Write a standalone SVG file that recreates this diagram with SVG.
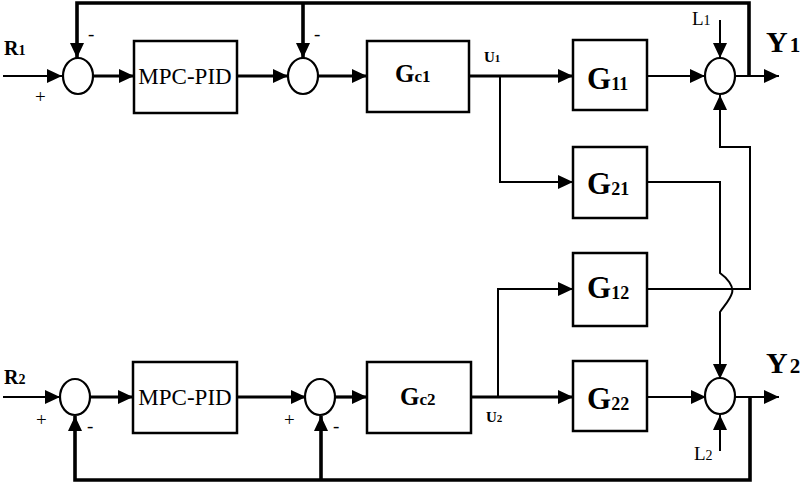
<svg xmlns="http://www.w3.org/2000/svg" width="800" height="482" viewBox="0 0 800 482">
<defs>
<marker id="ah" markerUnits="userSpaceOnUse" markerWidth="16" markerHeight="14" refX="15" refY="7" orient="auto">
<path d="M0,0 L15,7 L0,14 z" fill="#000"/>
</marker>
<style>
.blk{fill:#fff;stroke:#000;stroke-width:2.5}
.sum{fill:#fff;stroke:#000;stroke-width:2.2}
.thin{fill:none;stroke:#000;stroke-width:2}
.thick{fill:none;stroke:#000;stroke-width:3.2}
.fb{fill:none;stroke:#000;stroke-width:3.6}
text{font-family:"Liberation Serif","Times New Roman",serif;fill:#000}
.b{font-weight:bold}
.mpc{font-size:23px;text-anchor:middle}
.sign{font-size:19px}
</style>
</defs>
<rect width="800" height="482" fill="#fff"/>
<g id="connectors">
<path class="thin" d="M3,76 H62" marker-end="url(#ah)"/>
<path class="thick" d="M93,76 H134" marker-end="url(#ah)"/>
<path class="thick" d="M237,76 H288" marker-end="url(#ah)"/>
<path class="thick" d="M318,76 H367" marker-end="url(#ah)"/>
<path class="thick" d="M469,76 H573" marker-end="url(#ah)"/>
<path class="thin" d="M500,76 V182 H573" marker-end="url(#ah)"/>
<path class="thin" d="M647,76 H705" marker-end="url(#ah)"/>
<path class="thin" d="M735,76 H779" marker-end="url(#ah)"/>
<path class="thin" d="M720,20 V58" marker-end="url(#ah)"/>
<path class="fb" d="M749,76 V3 H77 V58" marker-end="url(#ah)"/>
<path class="fb" d="M303,3 V58" marker-end="url(#ah)"/>
<path class="thin" d="M647,182 H720 V273 C727,278 734,286 732,293 C730,300 724,306 720,312 V379" marker-end="url(#ah)"/>
<path class="thin" d="M647,289 H750 V147 H720 V95" marker-end="url(#ah)"/>
<path class="thin" d="M3,397 H60" marker-end="url(#ah)"/>
<path class="thick" d="M90,397 H133" marker-end="url(#ah)"/>
<path class="thick" d="M237,397 H306" marker-end="url(#ah)"/>
<path class="thick" d="M335,397 H367" marker-end="url(#ah)"/>
<path class="thick" d="M471,397 H573" marker-end="url(#ah)"/>
<path class="thin" d="M498,397 V289 H573" marker-end="url(#ah)"/>
<path class="thin" d="M647,397 H706" marker-end="url(#ah)"/>
<path class="thin" d="M735,397 H779" marker-end="url(#ah)"/>
<path class="thin" d="M720,451 V415" marker-end="url(#ah)"/>
<path class="fb" d="M750,397 V480 H75 V416" marker-end="url(#ah)"/>
<path class="fb" d="M321,480 V416" marker-end="url(#ah)"/>
</g>
<g id="sum1"><ellipse class="sum" cx="78" cy="76" rx="15" ry="18"/></g>
<g id="mpc1"><rect class="blk" x="134" y="41" width="103" height="72"/><text class="mpc" x="185" y="84">MPC-PID</text></g>
<g id="sum2"><ellipse class="sum" cx="303" cy="76" rx="15" ry="18"/></g>
<g id="gc1"><rect class="blk" x="367" y="41" width="102" height="71"/><text class="b" x="395" y="82" font-size="25">G<tspan font-size="17">c1</tspan></text></g>
<g id="g11"><rect class="blk" x="573" y="40" width="74" height="70"/><text class="b" x="587" y="89" font-size="31">G<tspan font-size="18" dy="1">11</tspan></text></g>
<g id="sum3"><ellipse class="sum" cx="720" cy="76" rx="15" ry="18"/></g>
<g id="g21"><rect class="blk" x="573" y="147" width="74" height="71"/><text class="b" x="587" y="194" font-size="31">G<tspan font-size="18" dy="1">21</tspan></text></g>
<g id="g12"><rect class="blk" x="573" y="253" width="74" height="73"/><text class="b" x="587" y="298" font-size="31">G<tspan font-size="18" dy="1">12</tspan></text></g>
<g id="sum4"><ellipse class="sum" cx="75" cy="397" rx="15" ry="18"/></g>
<g id="mpc2"><rect class="blk" x="133" y="362" width="104" height="71"/><text class="mpc" x="185" y="405">MPC-PID</text></g>
<g id="sum5"><ellipse class="sum" cx="320" cy="397" rx="15" ry="18"/></g>
<g id="gc2"><rect class="blk" x="367" y="362" width="104" height="71"/><text class="b" x="400" y="405" font-size="25">G<tspan font-size="17">c2</tspan></text></g>
<g id="g22"><rect class="blk" x="573" y="361" width="74" height="70"/><text class="b" x="587" y="409" font-size="31">G<tspan font-size="18" dy="1">22</tspan></text></g>
<g id="sum6"><ellipse class="sum" cx="720" cy="396" rx="15" ry="18"/></g>
<g id="labels">
<text class="b" x="4" y="55" font-size="20">R<tspan font-size="14">1</tspan></text>
<text class="b" x="4" y="384" font-size="20">R<tspan font-size="14">2</tspan></text>
<text class="sign" x="35" y="103">+</text>
<text class="sign" x="88" y="40">-</text>
<text class="sign" x="314" y="40">-</text>
<text class="sign" x="36" y="426">+</text>
<text class="sign" x="87" y="432">-</text>
<text class="sign" x="284" y="426">+</text>
<text class="sign" x="333" y="432">-</text>
<text class="b" x="484" y="62" font-size="15">U<tspan font-size="11">1</tspan></text>
<text class="b" x="486" y="422" font-size="15">U<tspan font-size="11">2</tspan></text>
<text x="692" y="25" font-size="19">L<tspan font-size="14">1</tspan></text>
<text x="694" y="460" font-size="19">L<tspan font-size="14">2</tspan></text>
<text class="b" x="766" y="52" font-size="30">Y<tspan font-size="21" dx="2">1</tspan></text>
<text class="b" x="766" y="373" font-size="30">Y<tspan font-size="21" dx="2">2</tspan></text>
</g>
</svg>
